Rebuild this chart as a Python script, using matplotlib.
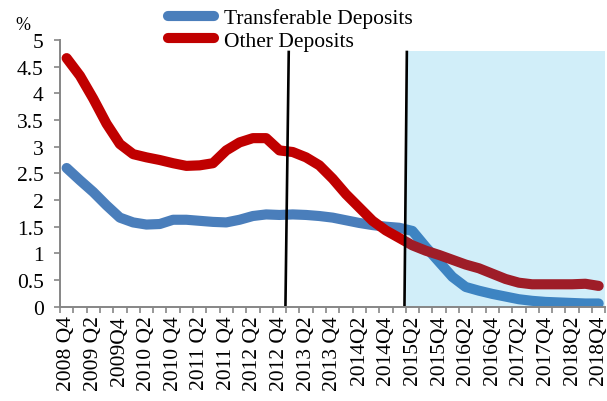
import matplotlib
matplotlib.use("Agg")
import matplotlib.pyplot as plt
from matplotlib.patches import Rectangle
import numpy as np

# ---- data ----
quarters = ["2008 Q4", "2009 Q1", "2009 Q2", "2009 Q3", "2009Q4", "2010 Q1", "2010 Q2", "2010 Q3",
            "2010 Q4", "2011 Q1", "2011 Q2", "2011 Q3", "2011 Q4", "2012 Q1", "2012 Q2", "2012 Q3",
            "2012 Q4", "2013 Q1", "2013 Q2", "2013 Q3", "2013 Q4", "2014Q1", "2014Q2", "2014Q3",
            "2014Q4", "2015Q1", "2015Q2", "2015Q3", "2015Q4", "2016Q1", "2016Q2", "2016Q3",
            "2016Q4", "2017Q1", "2017Q2", "2017Q3", "2017Q4", "2018Q1", "2018Q2", "2018Q3", "2018Q4"]

transferable = [2.60, 2.37, 2.15, 1.90, 1.67, 1.58, 1.54, 1.55, 1.63, 1.63, 1.61, 1.59,
                1.58, 1.63, 1.70, 1.73, 1.72, 1.73, 1.72, 1.70, 1.67, 1.62, 1.57, 1.53,
                1.50, 1.48, 1.42, 1.12, 0.84, 0.56, 0.37, 0.30, 0.24, 0.19, 0.14, 0.11,
                0.09, 0.08, 0.07, 0.06, 0.06]

other = [4.66, 4.33, 3.90, 3.43, 3.05, 2.86, 2.80, 2.75, 2.69, 2.64, 2.65, 2.69,
         2.93, 3.08, 3.16, 3.16, 2.93, 2.90, 2.80, 2.65, 2.40, 2.11, 1.86, 1.61,
         1.43, 1.29, 1.15, 1.05, 0.97, 0.88, 0.79, 0.72, 0.62, 0.52, 0.45, 0.42,
         0.42, 0.42, 0.42, 0.43, 0.39]

series_names = ["Transferable Deposits", "Other Deposits"]
yticks = [0, 0.5, 1, 1.5, 2, 2.5, 3, 3.5, 4, 4.5, 5]
ytick_labels = ["0", "0.5", "1", "1.5", "2", "2.5", "3", "3.5", "4", "4.5", "5"]

# event markers (category-index positions, bottom/top) and shaded forecast region
event_lines = [(16.45, 16.70), (25.40, 25.58)]
shade_start = 25.5
shade_top = 4.8

# ---- figure ----
plt.rcParams['font.family'] = ['Liberation Serif', 'DejaVu Serif']
fig = plt.figure(figsize=(6.07, 4.02), dpi=100)
W, H = 607, 402
ax = fig.add_axes([60 / W, 1 - 307.7 / H, (605.3 - 60) / W, (307.7 - 41) / H])

x = np.arange(len(quarters))
blue = "#4A7EBB"
red = "#C00000"
l1, = ax.plot(x, transferable, color=blue, lw=7.3, solid_capstyle='round',
              solid_joinstyle='round', zorder=3, label=series_names[0])
l2, = ax.plot(x, other, color=red, lw=7.3, solid_capstyle='round',
              solid_joinstyle='round', zorder=3, label=series_names[1])

# shaded overlay region (semi-transparent on top of lines)
ax.add_patch(Rectangle((shade_start, 0), len(quarters) - 0.5 - shade_start, shade_top,
                       facecolor=(0.02, 0.63, 0.89), alpha=0.18, edgecolor='none', zorder=4))

for xb, xt in event_lines:
    ax.plot([xb, xt], [0, shade_top], color='black', lw=1.9, zorder=5, solid_capstyle='butt')

ax.set_xlim(-0.5, len(quarters) - 0.5)
ax.set_ylim(0, 5)

# axes styling
for s in ['top', 'right']:
    ax.spines[s].set_visible(False)
for s in ['left', 'bottom']:
    ax.spines[s].set_color('#868686')
    ax.spines[s].set_linewidth(1.4)
    ax.spines[s].set_zorder(6)

ax.set_yticks(yticks)
ax.set_yticklabels(ytick_labels)
ax.tick_params(axis='y', direction='out', length=4.3, width=1.2, color='#868686',
               pad=7.5, labelsize=15.5)

ax.set_xticks(np.arange(-0.5, len(quarters), 1.0))
ax.set_xticklabels([])
ax.tick_params(axis='x', which='major', direction='out', length=4.3, width=1.2, color='#868686')
lab_idx = list(range(0, len(quarters), 2))
ax.set_xticks(lab_idx, minor=True)
ax.set_xticklabels([quarters[i] for i in lab_idx], minor=True, rotation=90,
                   fontsize=15.5, va='top', ha='center')
ax.tick_params(axis='x', which='minor', length=0, pad=6)

fig.text(23 / W, 1 - 26 / H, "%", fontsize=13, ha='center', va='center')

leg = fig.legend(handles=[l1, l2], loc='upper left',
                 bbox_to_anchor=(168 / W, 1 - 9 / H), frameon=False,
                 fontsize=15.5, handlelength=2.15, handletextpad=0.45,
                 labelspacing=0.12, borderpad=0, borderaxespad=0)

fig.savefig("out.png", dpi=100)
